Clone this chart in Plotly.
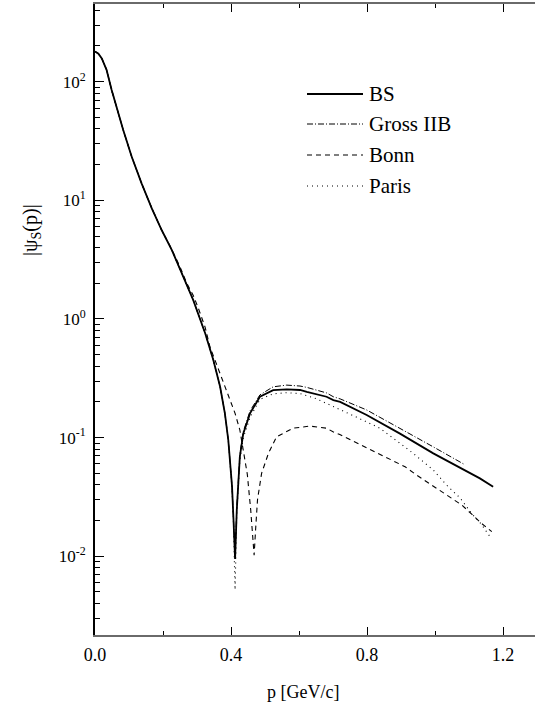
import plotly.graph_objects as go

# ---------------- data ----------------
bs_p = [0.0, 0.01, 0.02, 0.034, 0.049, 0.064, 0.083, 0.108, 0.137, 0.167, 0.196, 0.226, 0.25, 0.26,
        0.289, 0.324, 0.348, 0.368, 0.382, 0.392, 0.397, 0.403, 0.407, 0.412, 0.417, 0.421, 0.426,
        0.436, 0.456, 0.485, 0.524, 0.564, 0.603, 0.623, 0.681, 0.701, 0.721, 0.799, 0.897, 0.995,
        1.132, 1.171]
bs_v = [180, 172, 157, 126, 85, 59.7, 39.2, 23.3, 13.9, 8.57, 5.62, 3.81, 2.65, 2.22,
        1.44, 0.757, 0.45, 0.268, 0.16, 0.0955, 0.0646, 0.039, 0.0215, 0.0095, 0.0245, 0.044, 0.069,
        0.108, 0.16, 0.221, 0.251, 0.255, 0.252, 0.243, 0.221, 0.207, 0.200, 0.155, 0.108, 0.0736,
        0.0453, 0.0385]

gross_p = [0.0, 0.01, 0.02, 0.034, 0.049, 0.064, 0.083, 0.108, 0.137, 0.167, 0.196, 0.226, 0.25, 0.26,
           0.289, 0.324, 0.348, 0.368, 0.382, 0.392, 0.397, 0.403, 0.407, 0.412, 0.417, 0.421, 0.426,
           0.436, 0.456, 0.485, 0.524, 0.564, 0.603, 0.623, 0.681, 0.701, 0.721, 0.799, 0.897, 0.995,
           1.085]
gross_v = [180, 172, 157, 126, 85, 59.7, 39.2, 23.3, 13.9, 8.57, 5.62, 3.81, 2.65, 2.22,
           1.44, 0.757, 0.45, 0.268, 0.16, 0.0955, 0.0646, 0.039, 0.0215, 0.0098, 0.026, 0.046, 0.072,
           0.112, 0.168, 0.229, 0.268, 0.277, 0.272, 0.265, 0.238, 0.221, 0.212, 0.171, 0.120, 0.0835,
           0.0597]

bonn_p = [0.0, 0.01, 0.02, 0.034, 0.049, 0.064, 0.083, 0.108, 0.137, 0.167, 0.196, 0.226, 0.25, 0.27,
          0.289, 0.304, 0.324, 0.338, 0.348, 0.368, 0.392, 0.412, 0.426, 0.436, 0.448, 0.458, 0.463,
          0.468, 0.473, 0.478, 0.49, 0.51, 0.534, 0.583, 0.632, 0.681, 0.70, 0.72, 0.76, 0.799, 0.838,
          0.877, 0.912, 0.946, 0.98, 1.015, 1.044, 1.079, 1.108, 1.137, 1.167]
bonn_v = [180, 172, 157, 126, 85, 59.7, 39.2, 23.3, 13.9, 8.57, 5.62, 3.85, 2.75, 2.0,
          1.58, 1.23, 0.85, 0.583, 0.49, 0.348, 0.221, 0.16, 0.116, 0.0785, 0.049, 0.0245, 0.016,
          0.0102, 0.018, 0.030, 0.050, 0.0735, 0.1016, 0.120, 0.125, 0.120, 0.112, 0.106, 0.0933, 0.0822,
          0.0733, 0.0646, 0.0568, 0.0483, 0.0416, 0.0361, 0.0317, 0.027, 0.0226, 0.0189, 0.0161]

paris_p = [0.0, 0.01, 0.02, 0.034, 0.049, 0.064, 0.083, 0.108, 0.137, 0.167, 0.196, 0.226, 0.25, 0.26,
           0.289, 0.324, 0.348, 0.368, 0.382, 0.392, 0.397, 0.403, 0.407, 0.412, 0.417, 0.421, 0.426,
           0.436, 0.456, 0.485, 0.524, 0.564, 0.603, 0.65, 0.70, 0.76, 0.838, 0.877, 0.936, 0.995,
           1.034, 1.074, 1.108, 1.137, 1.152, 1.164]
paris_v = [180, 172, 157, 126, 85, 59.7, 39.2, 23.3, 13.9, 8.57, 5.62, 3.81, 2.65, 2.22,
           1.44, 0.757, 0.45, 0.268, 0.16, 0.0955, 0.063, 0.037, 0.020, 0.0052, 0.023, 0.041, 0.064,
           0.099, 0.148, 0.210, 0.234, 0.239, 0.235, 0.213, 0.184, 0.153, 0.120, 0.0984, 0.0736, 0.0532,
           0.0398, 0.0309, 0.0229, 0.0185, 0.0161, 0.0143]

series_names = ["BS", "Gross IIB", "Bonn", "Paris"]
x_tickvals = [0.0, 0.4, 0.8, 1.2]
x_ticktext = ["0.0", "0.4", "0.8", "1.2"]
x_minor = [0.2, 0.6, 1.0]
y_exps = [-2, -1, 0, 1, 2]

# ---------------- layout geometry ----------------
W, H = 535, 715
L, R, T, B = 95, 0, 4, 80
PW, PH = W - L - R, H - T - B
FONT = "Liberation Serif, Times New Roman, serif"


def pxx(x):
    return (x - L) / PW


def pxy(y):
    return (H - B - y) / PH


styles = [
    dict(color="black", width=1.8, dash="solid"),
    dict(color="black", width=1.0, dash="6px,2px,1px,2px"),
    dict(color="black", width=1.1, dash="5px,4px"),
    dict(color="black", width=1.1, dash="1px,4px"),
]

fig = go.Figure()
for name, xs, ys, st in zip(series_names, [bs_p, gross_p, bonn_p, paris_p],
                            [bs_v, gross_v, bonn_v, paris_v], styles):
    fig.add_trace(go.Scatter(x=xs, y=ys, mode="lines", name=name, line=st, showlegend=False))

# manual legend
leg_y = [94, 124, 155, 186]
for name, st, yy in zip(series_names, styles, leg_y):
    fig.add_shape(type="line", xref="paper", yref="paper", x0=pxx(307), x1=pxx(363),
                  y0=pxy(yy), y1=pxy(yy), line=st)
    fig.add_annotation(xref="paper", yref="paper", x=pxx(367), y=pxy(yy), text=name,
                       showarrow=False, xanchor="left", yanchor="middle",
                       font=dict(family=FONT, size=21, color="black"))

# axis titles
fig.add_annotation(xref="paper", yref="paper", x=pxx(303), y=pxy(692), text="p [GeV/c]",
                   showarrow=False, xanchor="center", yanchor="middle",
                   font=dict(family=FONT, size=18, color="black"))
fig.add_annotation(xref="paper", yref="paper", x=pxx(31), y=pxy(230),
                   text="|ψ<sub>S</sub>(p)|", textangle=-90,
                   showarrow=False, xanchor="center", yanchor="middle",
                   font=dict(family=FONT, size=20, color="black"))

y_minor = [k * 10.0 ** e for e in range(-3, 3) for k in range(2, 10)]

fig.update_layout(
    width=W, height=H, autosize=False,
    margin=dict(l=L, r=R, t=T, b=B, pad=0),
    paper_bgcolor="white", plot_bgcolor="white",
    xaxis=dict(range=[0, PW / 340.0], tickmode="array", tickvals=x_tickvals, ticktext=x_ticktext,
               ticks="inside", ticklen=8, tickwidth=1.2, tickcolor="black",
               showline=True, linecolor="#6a6a6a", linewidth=1.8, mirror="ticks",
               showgrid=False, zeroline=False, ticklabelstandoff=2,
               tickfont=dict(family=FONT, size=18, color="black"),
               minor=dict(tickmode="array", tickvals=x_minor, ticks="inside", ticklen=4,
                          tickcolor="black", showgrid=False)),
    yaxis=dict(type="log", range=[-2.664, 2.655], tickmode="array",
               tickvals=[10.0 ** e for e in y_exps],
               ticktext=["10<sup>%d</sup>" % e for e in y_exps],
               ticks="inside", ticklen=9, tickwidth=1.2, tickcolor="black",
               showline=True, linecolor="black", linewidth=1.8, mirror=False,
               showgrid=False, zeroline=False, ticklabelstandoff=4,
               tickfont=dict(family=FONT, size=17, color="black"),
               minor=dict(tickmode="array", tickvals=y_minor, ticks="inside", ticklen=5,
                          tickcolor="black", showgrid=False)),
)

fig.write_html("out.html")
